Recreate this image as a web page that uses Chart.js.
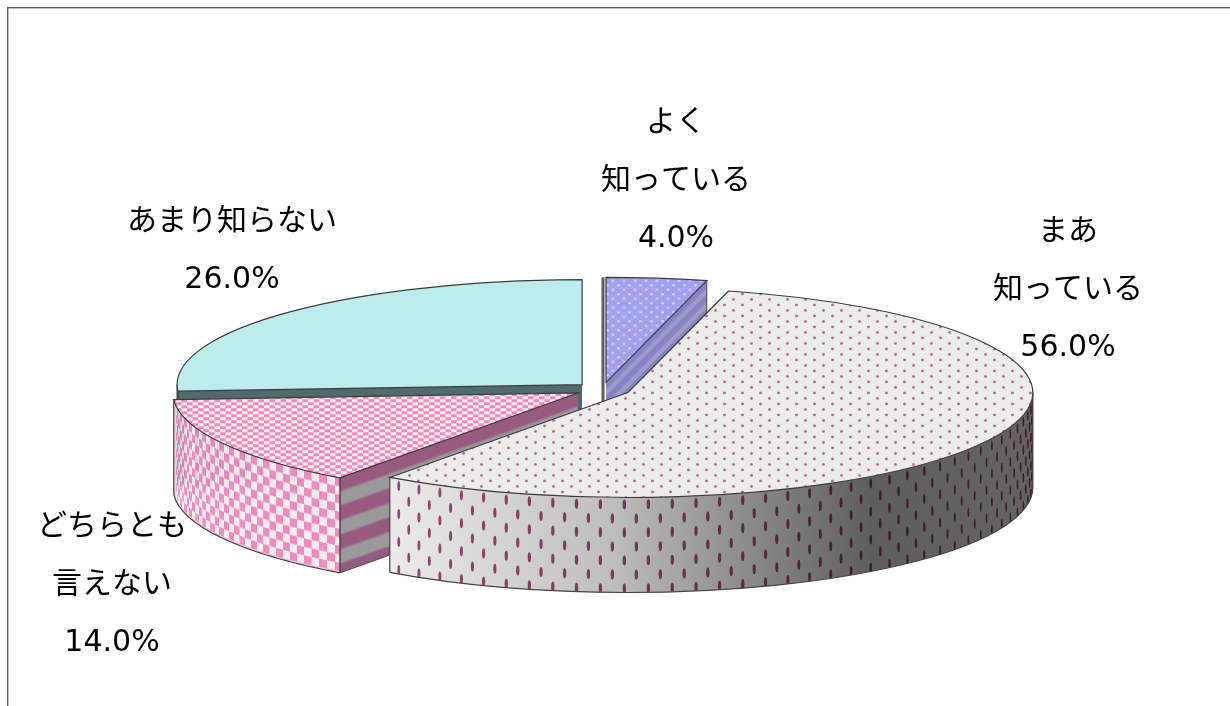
<!DOCTYPE html>
<html lang="ja">
<head>
<meta charset="utf-8">
<title>認知度</title>
<script src="https://cdn.jsdelivr.net/npm/chart.js@4"></script>
<style>
  html, body { margin: 0; padding: 0; background: #fff; overflow: hidden; }
  canvas { display: block; }
</style>
</head>
<body>
<canvas id="pie3d" width="1230" height="706"></canvas>
<script>
// ========== 3D PIE ==========

const categories = ['よく\n知っている', 'まあ\n知っている', 'どちらとも\n言えない', 'あまり知らない'];
const values = [4, 56, 14, 26];

// label block centres, same order as categories
const labelAnchors = [[676, 181], [1068, 290], [112, 585], [232, 251]];

const SQUASH = 0.259;     // tilt of the pie, height / width of the ellipse
const DEPTH = 95;         // wall height in px
const EXPLODE = 28;       // how far each slice is pulled out
const RADIUS = 405;
const DRAW_ORDER = [3, 0, 2, 1]; // back to front
const LINE_HEIGHT = 58;

function makeTile(w, h, paint, yScale) {
  const tile = document.createElement('canvas');
  tile.width = w;
  tile.height = h;
  paint(tile.getContext('2d'), w, h);
  const pattern = tile.getContext('2d').createPattern(tile, 'repeat');
  // the tops are filled under the squash transform, undo it for the tile
  if (yScale) pattern.setTransform(new DOMMatrix().scale(1, yScale));
  return pattern;
}

function softDot(c, x, y, rx, ry, color) {
  c.fillStyle = color;
  c.beginPath();
  c.ellipse(x, y, rx, ry, 0, 0, Math.PI * 2);
  c.fill();
}

const topFills = [
  makeTile(11, 9, (c, w, h) => {
    c.fillStyle = '#a0a0ee';
    c.fillRect(0, 0, w, h);
    c.fillStyle = '#d2d2f8';
    c.fillRect(1, 1, 3, 2);
    c.fillRect(6.5, 5.5, 3, 2);
  }, 1 / SQUASH),
  makeTile(18, 11, (c, w, h) => {
    c.fillStyle = '#ececec';
    c.fillRect(0, 0, w, h);
    softDot(c, 4.5, 3, 1.5, 1.2, '#b5608f');
    softDot(c, 13.5, 8.5, 1.5, 1.2, '#b5608f');
  }, 1 / SQUASH),
  makeTile(11, 6, (c, w, h) => {
    c.fillStyle = '#f288bc';
    c.fillRect(0, 0, w, h);
    c.fillStyle = '#f4eef0';
    c.fillRect(0, 0, 5.5, 3);
    c.fillRect(5.5, 3, 5.5, 3);
  }, 1 / SQUASH),
  '#bcecec'
];

const pinkRim = makeTile(20, 17, (c) => {
  c.fillStyle = '#ee8abc';
  c.fillRect(0, 0, 20, 17);
  c.fillStyle = '#f1ecee';
  c.fillRect(0, 0, 10, 8.5);
  c.fillRect(10, 8.5, 10, 8.5);
});

const cutFills = [
  makeTile(4, 14, (c) => {
    const g = c.createLinearGradient(0, 0, 0, 14);
    g.addColorStop(0, '#8484cc');
    g.addColorStop(0.45, '#8484cc');
    g.addColorStop(0.6, '#9e9ec4');
    g.addColorStop(0.9, '#9e9ec4');
    g.addColorStop(1, '#8484cc');
    c.fillStyle = g;
    c.fillRect(0, 0, 4, 14);
  }),
  null,
  makeTile(4, 29, (c) => {
    const g = c.createLinearGradient(0, 0, 0, 29);
    g.addColorStop(0, '#985a80');
    g.addColorStop(0.42, '#985a80');
    g.addColorStop(0.52, '#9a9a9a');
    g.addColorStop(0.92, '#9a9a9a');
    g.addColorStop(1, '#985a80');
    c.fillStyle = g;
    c.fillRect(0, 0, 4, 29);
  }),
  '#4f6b6b'
];

function rimPoint(arc, ang, drop) {
  return {
    x: arc.x + arc.outerRadius * Math.cos(ang),
    y: arc.y + arc.outerRadius * SQUASH * Math.sin(ang) + (drop || 0)
  };
}

function rimPath(ctx, arc, a0, a1) {
  const r = arc.outerRadius;
  ctx.beginPath();
  ctx.ellipse(arc.x, arc.y, r, r * SQUASH, 0, a0, a1);
  ctx.ellipse(arc.x, arc.y + DEPTH, r, r * SQUASH, 0, a1, a0, true);
  ctx.closePath();
}

// pink wall: the tile is wrapped round the cylinder strip by strip
function drawCheckRim(ctx, arc, a0, a1) {
  const r = arc.outerRadius;
  const step = Math.PI / 360;
  ctx.save();
  rimPath(ctx, arc, a0, a1);
  ctx.clip();
  ctx.fillStyle = pinkRim;
  for (let t = a1; t > a0; t -= step) {
    const p0 = rimPoint(arc, t);
    const p1 = rimPoint(arc, t - step);
    const u0 = (a1 - t) * r;
    ctx.save();
    ctx.transform((p1.x - p0.x) / (step * r), (p1.y - p0.y) / (step * r), 0, 1, p0.x, p0.y);
    ctx.translate(-u0, 0);
    ctx.fillRect(u0 - 0.3, -2, step * r + 0.6, DEPTH + 4);
    ctx.restore();
  }
  ctx.restore();
}

// big wall: shaded grey with long staggered dots
function drawDottedRim(ctx, arc, a0, a1) {
  const r = arc.outerRadius;
  const shade = ctx.createLinearGradient(rimPoint(arc, a1).x, 0, rimPoint(arc, a0).x, 0);
  shade.addColorStop(0, '#ebebeb');
  shade.addColorStop(0.35, '#bdbdbd');
  shade.addColorStop(0.55, '#8c8c8c');
  shade.addColorStop(0.75, '#5e5e5e');
  shade.addColorStop(1, '#646464');
  rimPath(ctx, arc, a0, a1);
  ctx.fillStyle = shade;
  ctx.fill();

  ctx.save();
  rimPath(ctx, arc, a0, a1);
  ctx.clip();
  ctx.globalCompositeOperation = 'multiply';
  ctx.filter = 'blur(0.6px)';
  ctx.fillStyle = '#a84a7c';
  let col = 0;
  for (let u = 11; u < (a1 - a0) * r; u += 12, col++) {
    const t = a1 - u / r;
    const base = rimPoint(arc, t);
    const rx = Math.max(0.9, 1.7 * Math.abs(Math.sin(t)));
    for (let v = col % 2 ? 21 : 7; v < DEPTH + 6; v += 28) {
      ctx.beginPath();
      ctx.ellipse(base.x, base.y + v, rx, 5, 0, 0, Math.PI * 2);
      ctx.fill();
    }
  }
  ctx.restore();
}

// straight wall along a cut edge, fill follows the slope of the edge
function drawCutWall(ctx, arc, ang, fill) {
  const p = rimPoint(arc, ang);
  const dx = p.x - arc.x;
  const dy = p.y - arc.y;
  ctx.beginPath();
  ctx.moveTo(arc.x, arc.y);
  ctx.lineTo(p.x, p.y);
  ctx.lineTo(p.x, p.y + DEPTH);
  ctx.lineTo(arc.x, arc.y + DEPTH);
  ctx.closePath();
  ctx.save();
  ctx.clip();
  ctx.transform(1, dy / dx, 0, 1, arc.x, arc.y);
  ctx.fillStyle = fill;
  ctx.fillRect(Math.min(dx, 0), 0, Math.abs(dx), DEPTH);
  ctx.restore();
  ctx.beginPath();
  ctx.moveTo(p.x, p.y);
  ctx.lineTo(p.x, p.y + DEPTH);
  ctx.lineTo(arc.x, arc.y + DEPTH);
  ctx.strokeStyle = '#444';
  ctx.lineWidth = 1;
  ctx.stroke();
}

function drawSliceWalls(ctx, arc, i) {
  const a0 = arc.startAngle;
  const a1 = arc.endAngle;

  if (Math.cos(a0) < -0.01) drawCutWall(ctx, arc, a0, cutFills[i]);
  if (Math.cos(a1) > 0.01) drawCutWall(ctx, arc, a1, cutFills[i]);

  const from = Math.max(a0, 0);
  const to = Math.min(a1, Math.PI);
  if (to > from) {
    if (i === 1) drawDottedRim(ctx, arc, from, to);
    else drawCheckRim(ctx, arc, from, to);
    const r = arc.outerRadius;
    ctx.beginPath();
    ctx.ellipse(arc.x, arc.y + DEPTH, r, r * SQUASH, 0, from, to);
    const end = rimPoint(arc, from);
    ctx.moveTo(end.x, end.y);
    ctx.lineTo(end.x, end.y + DEPTH);
    const start = rimPoint(arc, to);
    ctx.moveTo(start.x, start.y);
    ctx.lineTo(start.x, start.y + DEPTH);
    ctx.strokeStyle = '#444';
    ctx.lineWidth = 1.2;
    ctx.stroke();
  }
}

function outlineTop(ctx, arc) {
  const r = arc.outerRadius;
  ctx.beginPath();
  ctx.moveTo(arc.x, arc.y);
  ctx.ellipse(arc.x, arc.y, r, r * SQUASH, 0, arc.startAngle, arc.endAngle);
  ctx.closePath();
  ctx.strokeStyle = '#3c3c3c';
  ctx.lineWidth = 1.2;
  ctx.stroke();
}

const pie3dPlugin = {
  id: 'pie3d',
  afterDatasetsUpdate(chart) {
    // explode the slices along their bisector
    chart.getDatasetMeta(0).data.forEach(arc => {
      const mid = (arc.startAngle + arc.endAngle) / 2;
      arc.x += Math.cos(mid) * EXPLODE;
      arc.y += Math.sin(mid) * EXPLODE * SQUASH;
    });
  },
  beforeDraw(chart) {
    // frame around the plot
    const ctx = chart.ctx;
    ctx.fillStyle = '#5c5c5c';
    ctx.fillRect(7, 7, chart.width - 7, 1.4);
    ctx.fillRect(7, 7, 1.4, chart.height - 7);
  },
  beforeDatasetsDraw(chart) {
    const ctx = chart.ctx;
    const arcs = chart.getDatasetMeta(0).data;

    DRAW_ORDER.forEach(i => {
      const arc = arcs[i];

      // thin left wall of the first slice
      if (i === 0) {
        const top = rimPoint(arc, arc.startAngle);
        ctx.fillStyle = '#5e5e5e';
        ctx.fillRect(top.x - 4.5, top.y, 3, DEPTH + arc.y - top.y);
      }

      drawSliceWalls(ctx, arc, i);

      // the top is the chart's own arc, flattened around its centre
      ctx.save();
      ctx.translate(0, arc.y);
      ctx.scale(1, SQUASH);
      ctx.translate(0, -arc.y);
      arc.draw(ctx);
      ctx.restore();

      outlineTop(ctx, arc);
    });
    return false;
  },
  afterDraw(chart) {
    const ctx = chart.ctx;
    ctx.fillStyle = '#000';
    ctx.font = '30px "DejaVu Sans", "Noto Sans CJK JP", sans-serif';
    ctx.textAlign = 'center';
    ctx.textBaseline = 'middle';
    categories.forEach((cat, i) => {
      const lines = cat.split('\n').concat(values[i].toFixed(1) + '%');
      const [x, y] = labelAnchors[i];
      const firstY = y - (lines.length - 1) * LINE_HEIGHT / 2;
      lines.forEach((line, j) => ctx.fillText(line, x, firstY + j * LINE_HEIGHT));
    });
  }
};

new Chart(document.getElementById('pie3d'), {
  type: 'pie',
  data: {
    labels: categories,
    datasets: [{
      data: values,
      backgroundColor: topFills,
      borderWidth: 0
    }]
  },
  options: {
    responsive: false,
    animation: false,
    radius: RADIUS,
    layout: { padding: { left: 0, right: 25, top: 73, bottom: 0 } },
    plugins: {
      legend: { display: false },
      tooltip: { enabled: false }
    }
  },
  plugins: [pie3dPlugin]
});
</script>
</body>
</html>
